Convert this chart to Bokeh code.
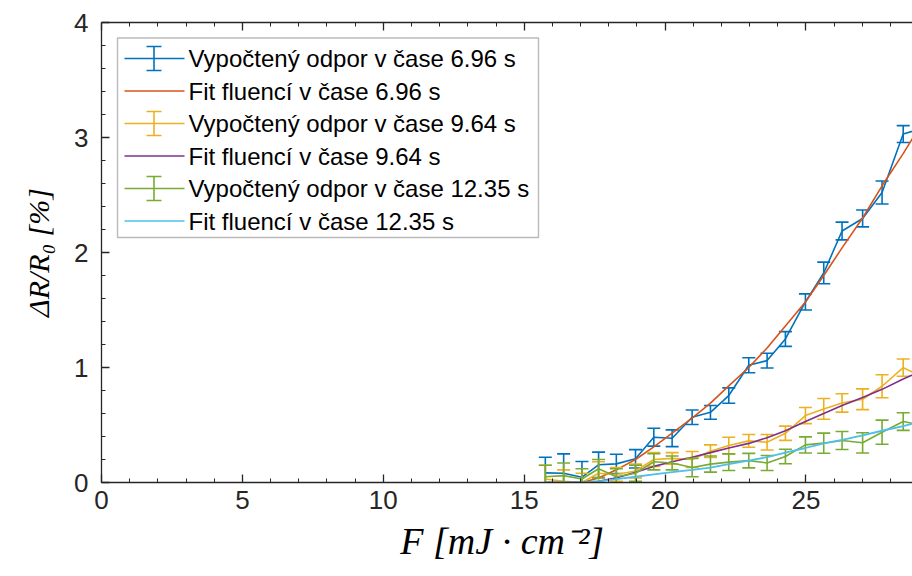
import math
from bokeh.plotting import figure
from bokeh.models import Range1d, LinearAxis, FixedTicker, BoxAnnotation, Label, CustomJSTickFormatter
from bokeh.embed import file_html
from bokeh.resources import INLINE

# ---- data ----
fluence = [15.75, 16.40, 17.05, 17.64, 18.27, 18.95, 19.60, 20.25, 20.96, 21.61, 22.26,
           22.97, 23.62, 24.27, 24.98, 25.63, 26.28, 27.01, 27.70, 28.45, 29.10]

r_696 = [0.084, 0.081, 0.046, 0.154, 0.162, 0.206, 0.394, 0.385, 0.567, 0.61, 0.756,
         1.02, 1.06, 1.248, 1.57, 1.822, 2.187, 2.296, 2.522, 3.03, 3.08]
e_696 = [0.136, 0.168, 0.136, 0.11, 0.084, 0.08, 0.078, 0.073, 0.063, 0.06, 0.067,
         0.065, 0.064, 0.064, 0.07, 0.094, 0.077, 0.073, 0.1, 0.073, 0.08]
fit_696 = [0.0, 0.0, 0.0, 0.04, 0.11, 0.2, 0.31, 0.43, 0.56, 0.69, 0.84,
           1.0, 1.17, 1.36, 1.57, 1.8, 2.04, 2.3, 2.58, 2.86, 3.12]

r_964 = [0.03, 0.01, 0.0, 0.08, 0.07, 0.1, 0.2, 0.21, 0.2, 0.272, 0.321,
         0.362, 0.35, 0.428, 0.582, 0.64, 0.692, 0.724, 0.837, 0.999, 0.92]
e_964 = [0.12, 0.1, 0.08, 0.1, 0.06, 0.06, 0.06, 0.05, 0.07, 0.055, 0.072,
         0.055, 0.068, 0.062, 0.07, 0.09, 0.08, 0.09, 0.1, 0.075, 0.08]
fit_964 = [0.0, 0.0, 0.0, 0.01, 0.04, 0.09, 0.14, 0.18, 0.22, 0.26, 0.30,
           0.34, 0.39, 0.45, 0.53, 0.6, 0.67, 0.74, 0.81, 0.9, 0.97]

r_1235 = [0.05, 0.06, 0.03, 0.12, 0.05, 0.08, 0.18, 0.17, 0.13, 0.16, 0.177,
          0.19, 0.17, 0.226, 0.327, 0.342, 0.365, 0.345, 0.437, 0.53, 0.5]
e_1235 = [0.1, 0.11, 0.09, 0.08, 0.07, 0.07, 0.07, 0.06, 0.08, 0.07, 0.072,
          0.063, 0.065, 0.063, 0.07, 0.087, 0.078, 0.088, 0.105, 0.077, 0.08]
fit_1235 = [0.0, 0.0, 0.0, 0.01, 0.03, 0.05, 0.07, 0.09, 0.11, 0.13, 0.16,
            0.19, 0.22, 0.26, 0.3, 0.34, 0.37, 0.41, 0.45, 0.49, 0.53]

x_major = [0, 5, 10, 15, 20, 25]
y_major = [0, 1, 2, 3, 4]

labels = ["Vypočtený odpor v čase 6.96 s", "Fit fluencí v čase 6.96 s",
          "Vypočtený odpor v čase 9.64 s", "Fit fluencí v čase 9.64 s",
          "Vypočtený odpor v čase 12.35 s", "Fit fluencí v čase 12.35 s"]

C_BLUE, C_RED, C_YEL, C_PUR, C_GRN, C_CYA = "#0072BD", "#D95319", "#EDB120", "#7E2F8E", "#77AC30", "#4DBEEE"
AX = "#262626"

p = figure(width=912, height=576, x_range=Range1d(0, 28.78), y_range=Range1d(0, 4),
           output_backend="svg", toolbar_location=None,
           min_border_left=101, min_border_right=0, min_border_top=22, min_border_bottom=94)
p.outline_line_color = None
p.grid.visible = False
p.background_fill_color = "white"
p.border_fill_color = "white"

x_minor = [i for i in range(0, 31)]
y_minor = [i * 0.2 for i in range(0, 21)]

def style_axis(ax, major, minor):
    ax.ticker = FixedTicker(ticks=major, minor_ticks=minor)
    ax.axis_line_color = AX
    ax.axis_line_width = 1.3
    ax.major_tick_line_color = AX
    ax.minor_tick_line_color = AX
    ax.major_tick_line_width = 1.3
    ax.minor_tick_line_width = 1.0
    ax.major_tick_in = 8
    ax.major_tick_out = 0
    ax.minor_tick_in = 4
    ax.minor_tick_out = 0
    ax.major_label_text_font = "Liberation Sans"
    ax.major_label_text_font_size = "26px"
    ax.major_label_text_color = AX

xa = p.below[0]
style_axis(xa, x_major, x_minor)
xa.major_label_standoff = 8
xa.axis_label = "F  [mJ · cm⁻²]"
xa.axis_label_text_font = "Liberation Serif"
xa.axis_label_text_font_style = "italic"
xa.axis_label_text_font_size = "38px"
xa.axis_label_text_color = "#000000"
xa.axis_label_standoff = 8

ya = p.left[0]
style_axis(ya, y_major, y_minor)
ya.major_label_standoff = 13
ya.axis_label = "ΔR/R₀ [%]"
ya.axis_label_text_font = "Liberation Serif"
ya.axis_label_text_font_style = "italic"
ya.axis_label_text_font_size = "30px"
ya.axis_label_text_color = "#000000"
ya.axis_label_standoff = 16

top = LinearAxis(formatter=CustomJSTickFormatter(code="return ''"))
style_axis(top, x_major, x_minor)
top.major_label_standoff = 0
p.add_layout(top, "above")

def errseries(y, e, color):
    lo = [a - b for a, b in zip(y, e)]
    hi = [a + b for a, b in zip(y, e)]
    p.line(fluence, y, line_color=color, line_width=1.6)
    p.segment(x0=fluence, y0=lo, x1=fluence, y1=hi, line_color=color, line_width=1.6)
    p.scatter(fluence, hi, marker="dash", size=13, line_color=color, line_width=1.6)
    p.scatter(fluence, lo, marker="dash", size=13, line_color=color, line_width=1.6)

errseries(r_696, e_696, C_BLUE)
p.line(fluence, fit_696, line_color=C_RED, line_width=1.6)
errseries(r_964, e_964, C_YEL)
p.line(fluence, fit_964, line_color=C_PUR, line_width=1.6)
errseries(r_1235, e_1235, C_GRN)
p.line(fluence, fit_1235, line_color=C_CYA, line_width=1.8)

# ---- legend (screen units relative to the frame, y up from frame bottom) ----
FH = 460
leg_left, leg_right, leg_top, leg_bottom = 16, 437, FH - 15.5, FH - 215
p.add_layout(BoxAnnotation(left=leg_left, right=leg_right, top=leg_top, bottom=leg_bottom,
                           left_units="screen", right_units="screen", top_units="screen", bottom_units="screen",
                           fill_color="white", fill_alpha=1.0, line_color="#1a1a1a", line_width=1.4))
colors = [C_BLUE, C_RED, C_YEL, C_PUR, C_GRN, C_CYA]
for i, (lab, col) in enumerate(zip(labels, colors)):
    yc = FH - (36.0 + i * 32.5)
    p.add_layout(BoxAnnotation(left=23, right=83, top=yc + 0.8, bottom=yc - 0.8,
                               left_units="screen", right_units="screen", top_units="screen", bottom_units="screen",
                               fill_color=col, fill_alpha=1.0, line_color=None))
    if i % 2 == 0:
        p.add_layout(BoxAnnotation(left=51.7, right=53.3, top=yc + 12, bottom=yc - 12,
                                   left_units="screen", right_units="screen", top_units="screen", bottom_units="screen",
                                   fill_color=col, fill_alpha=1.0, line_color=None))
        for yy in (yc + 12, yc - 12):
            p.add_layout(BoxAnnotation(left=45, right=60, top=yy + 0.8, bottom=yy - 0.8,
                                       left_units="screen", right_units="screen", top_units="screen", bottom_units="screen",
                                       fill_color=col, fill_alpha=1.0, line_color=None))
    p.add_layout(Label(x=87, y=yc, x_units="screen", y_units="screen", text=lab,
                       text_baseline="middle", text_align="left", text_font="Liberation Sans",
                       text_font_size="24px", text_color="#000000"))

open("out.html", "w").write(file_html(p, INLINE))
